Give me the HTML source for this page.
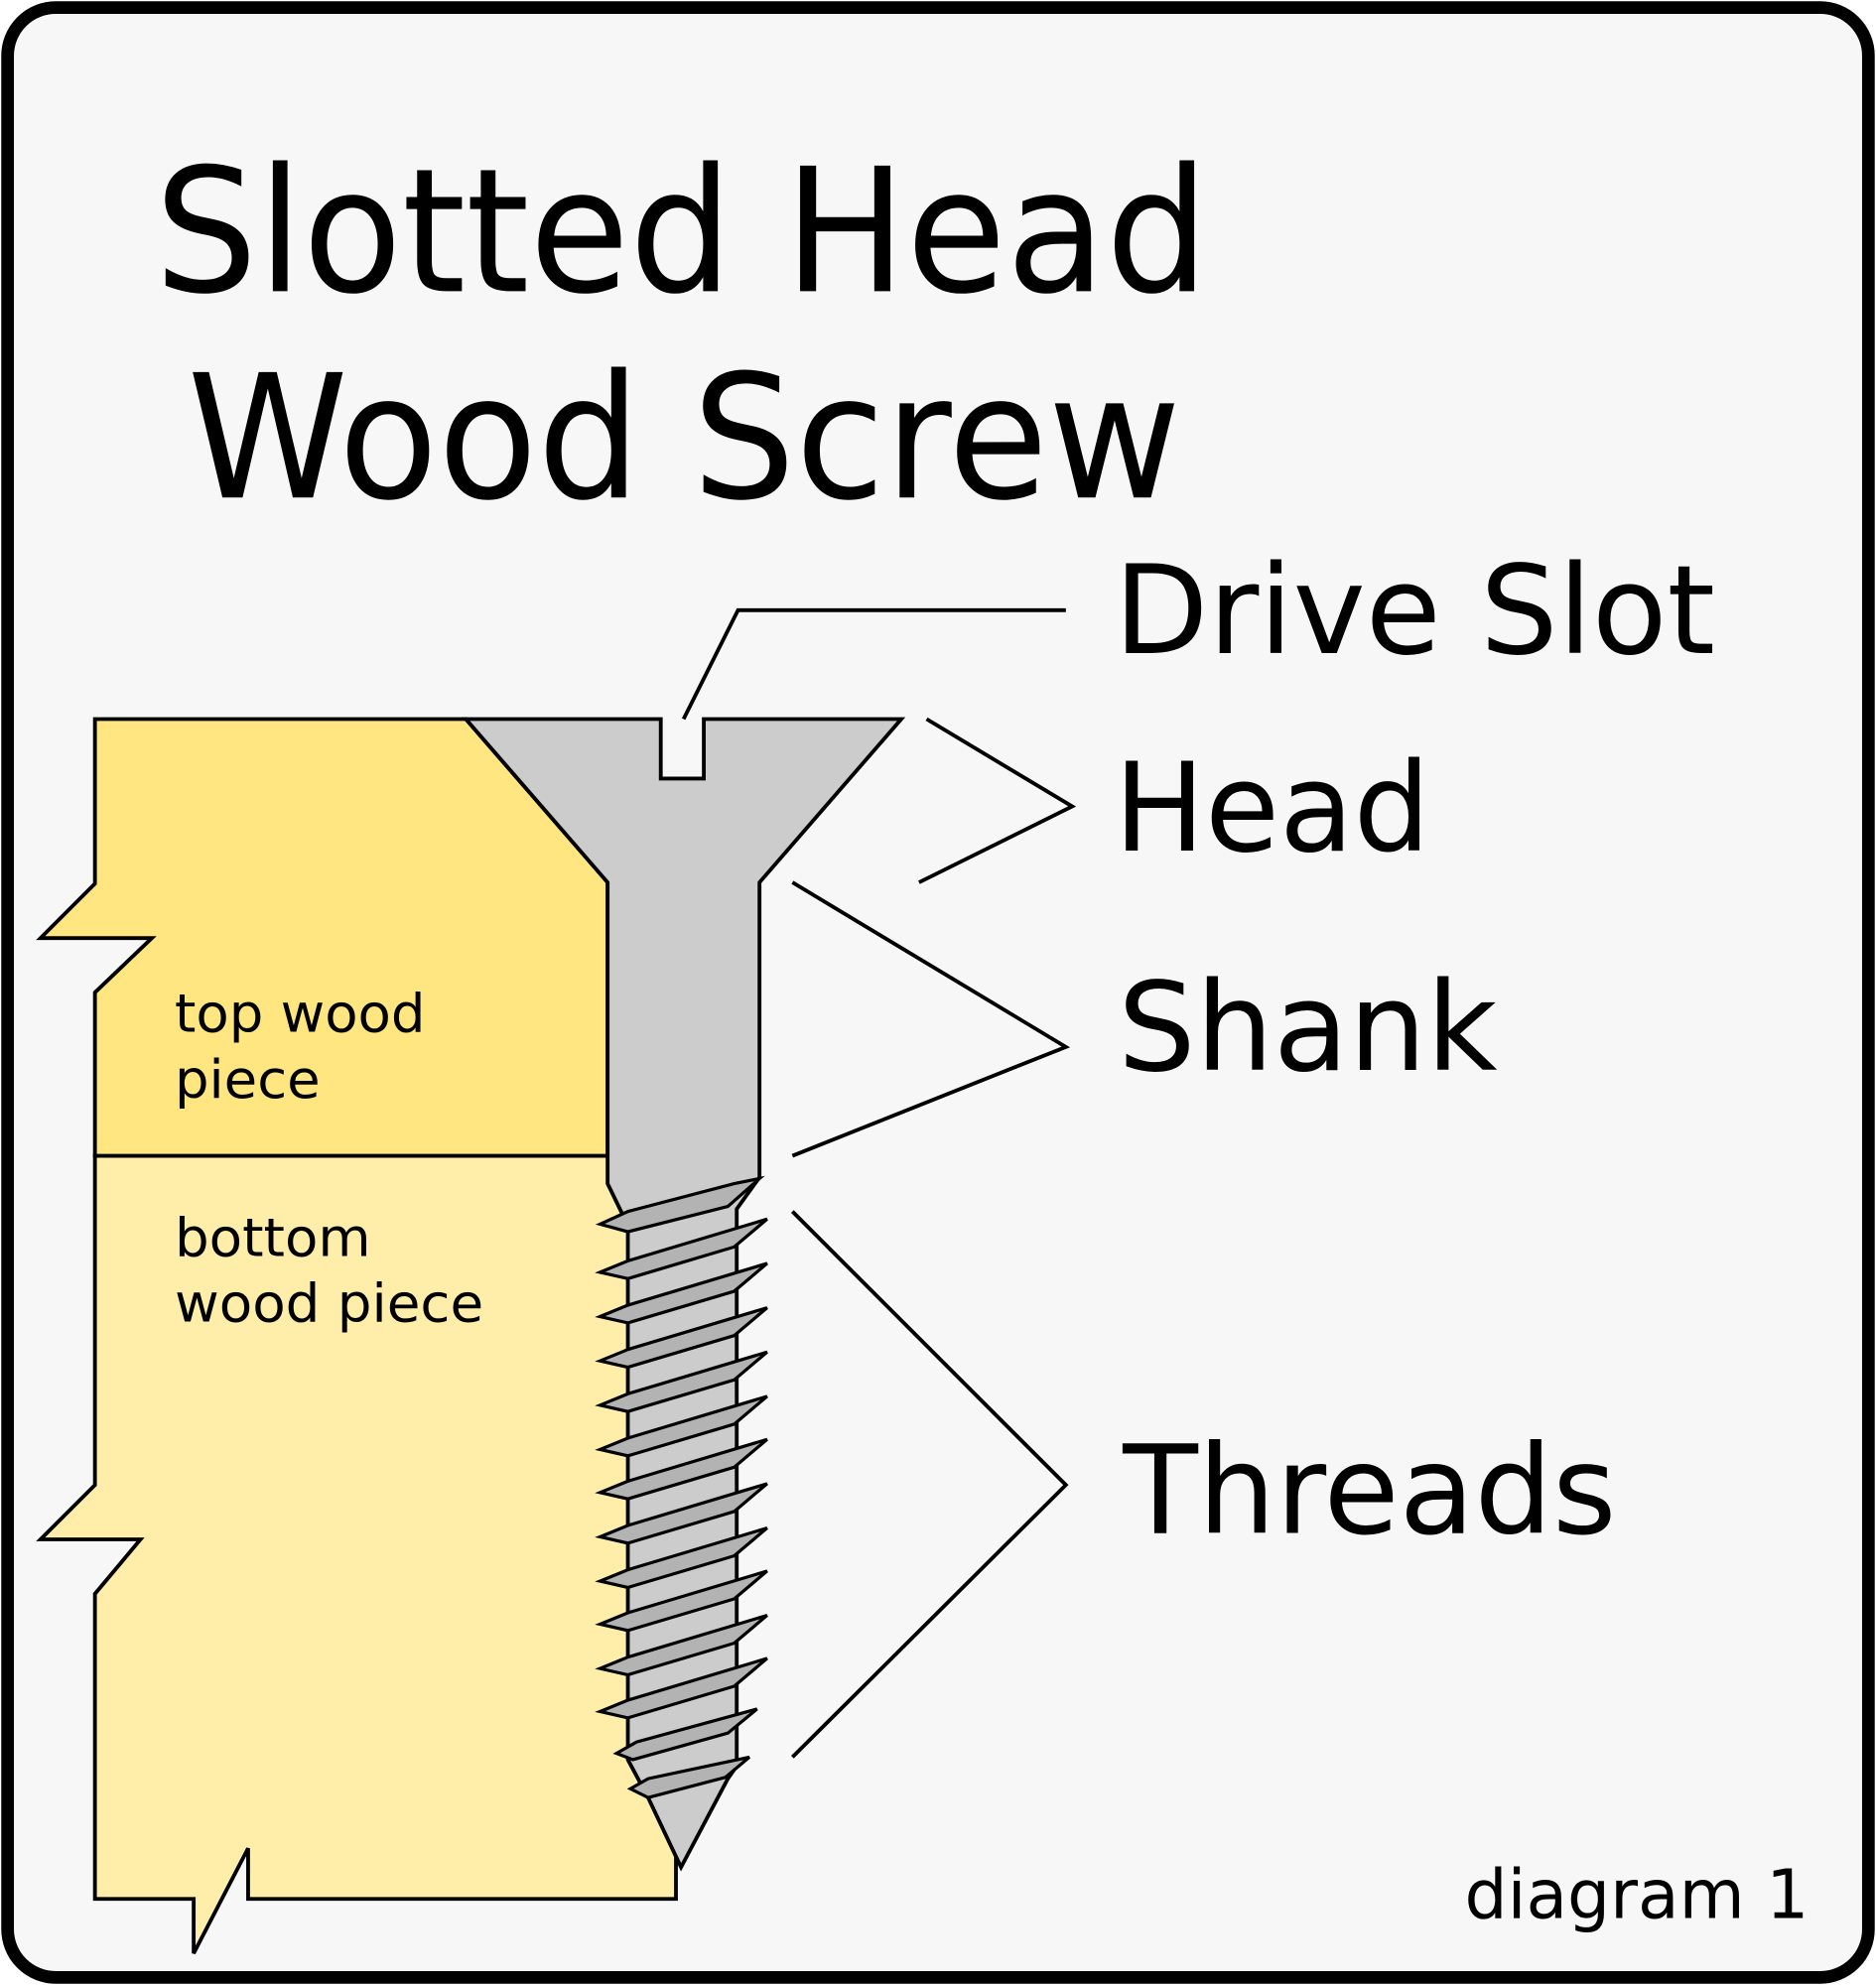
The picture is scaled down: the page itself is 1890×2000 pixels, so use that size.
<!DOCTYPE html>
<html><head><meta charset="utf-8"><style>html,body{margin:0;padding:0;background:#fff}svg{display:block}</style></head>
<body>
<svg width="1890" height="2000" viewBox="0 0 1482 1568" preserveAspectRatio="none" xmlns="http://www.w3.org/2000/svg" font-family="DejaVu Sans, Liberation Sans, sans-serif">
<rect x="6" y="6" width="1470" height="1556" rx="38" fill="#f7f7f7" stroke="#000" stroke-width="10"/>
<text x="122" y="230" font-size="136" textLength="833" lengthAdjust="spacingAndGlyphs">Slotted Head</text>
<text x="148" y="393" font-size="136" textLength="785" lengthAdjust="spacingAndGlyphs">Wood Screw</text>
<text x="880" y="516" font-size="97" textLength="475" lengthAdjust="spacingAndGlyphs">Drive Slot</text>
<text x="880" y="672" font-size="97" textLength="250" lengthAdjust="spacingAndGlyphs">Head</text>
<text x="883" y="845" font-size="97" textLength="300" lengthAdjust="spacingAndGlyphs">Shank</text>
<text x="887" y="1211" font-size="97" textLength="390" lengthAdjust="spacingAndGlyphs">Threads</text>
<text x="1157" y="1515" font-size="54" textLength="272" lengthAdjust="spacingAndGlyphs">diagram 1</text>
<g fill="none" stroke="#000" stroke-width="3">
<polyline points="540,568 583,482 842,482"/>
<polyline points="732,568 847,637 726,697"/>
<polyline points="626,697 842,827 626,913"/>
<polyline points="626,957 842,1173 626,1388"/>
</g>
<polygon points="75,913 480,913 534,913 534,1500 196,1500 196,1460 153,1543 153,1500 75,1500 75,1259 111,1216 32,1216 75,1173" fill="#ffeeaa" stroke="#000" stroke-width="3"/>
<polygon points="75,568 368,568 480,697 480,913 75,913 75,784 120,741 32,741 75,698" fill="#ffe680" stroke="#000" stroke-width="3"/>
<polygon points="368,568 522,568 522,615 556,615 556,568 712,568 600,697 600,930 582,955 582,1395 575,1405 538,1475 512,1420 496,1390 496,968 480,935 480,697" fill="#cccccc" stroke="#000" stroke-width="3"/>
<g fill="#b3b3b3" stroke="#000" stroke-width="2.5" stroke-linejoin="miter">
<polygon points="474,967 496,957 580,935 600,931 575,953 496,973"/>
<polygon points="474,1005 496,996 606,963 580,985 496,1010"/>
<polygon points="474,1040 496,1031 606,998 580,1020 496,1045"/>
<polygon points="474,1075 496,1066 606,1033 580,1055 496,1080"/>
<polygon points="474,1110 496,1101 606,1068 580,1090 496,1115"/>
<polygon points="474,1145 496,1136 606,1103 580,1125 496,1150"/>
<polygon points="474,1179 496,1170 606,1137 580,1159 496,1184"/>
<polygon points="474,1214 496,1205 606,1172 580,1194 496,1219"/>
<polygon points="474,1249 496,1240 606,1207 580,1229 496,1254"/>
<polygon points="474,1283 496,1274 606,1241 580,1263 496,1288"/>
<polygon points="474,1318 496,1309 606,1276 580,1298 496,1323"/>
<polygon points="474,1352 496,1343 606,1310 580,1332 496,1357"/>
<polygon points="487,1385 503,1376 598,1350 575,1369 500,1390"/>
<polygon points="498,1413 512,1405 592,1388 573,1404 512,1420"/>
</g>
<g font-size="42">
<text x="138" y="815" textLength="198" lengthAdjust="spacingAndGlyphs">top wood</text>
<text x="138" y="867" textLength="115" lengthAdjust="spacingAndGlyphs">piece</text>
<text x="138" y="992" textLength="155" lengthAdjust="spacingAndGlyphs">bottom</text>
<text x="138" y="1044" textLength="244" lengthAdjust="spacingAndGlyphs">wood piece</text>
</g>
</svg>
</body></html>
